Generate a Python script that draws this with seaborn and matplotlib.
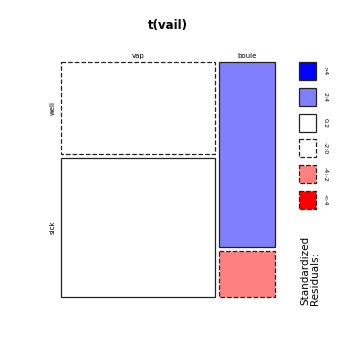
import numpy as np
import matplotlib.pyplot as plt
import seaborn as sns

# contingency table t(vail): columns = treatment, rows = state
col_names = ["vap", "boule"]
row_names = ["well", "sick"]
counts = np.array([[27, 20],   # well
                   [41, 5]])   # sick

legend_labels = [">4", "2:4", "0:2", "-2:0", "-4:-2", "<-4"]
legend_colors = ["#0000FF", "#8080FF", "#FFFFFF", "#FFFFFF", "#FF8080", "#FF0000"]
legend_dashed = [False, False, False, True, True, True]


def shade(r):
    if r > 4:
        return 0
    if r > 2:
        return 1
    if r > 0:
        return 2
    if r > -2:
        return 3
    if r > -4:
        return 4
    return 5


sns.set_theme(style="white")
plt.rcParams["font.family"] = ["DejaVu Sans"]
plt.rcParams["text.color"] = "black"

fig = plt.figure(figsize=(3.6, 3.6), dpi=100)
W, H = 360.0, 360.0

# pearson residuals
n = counts.sum()
expected = np.outer(counts.sum(axis=1), counts.sum(axis=0)) / n
resid = (counts - expected) / np.sqrt(expected)

# mosaic area in pixels
mx0, mx1, my0, my1 = 61, 275, 62, 297
gap = 4
ax = fig.add_axes([mx0 / W, 1 - my1 / H, (mx1 - mx0) / W, (my1 - my0) / H])
ax.set_xlim(0, mx1 - mx0)
ax.set_ylim(my1 - my0, 0)
ax.axis("off")

col_tot = counts.sum(axis=0)
col_w = (mx1 - mx0 - gap * (len(col_names) - 1)) * col_tot / col_tot.sum()
x = 0.0
for j, cname in enumerate(col_names):
    avail = (my1 - my0) - gap * (len(row_names) - 1)
    heights = avail * counts[:, j] / counts[:, j].sum()
    y = 0.0
    for i, rname in enumerate(row_names):
        k = shade(resid[i, j])
        ax.bar(x, heights[i], width=col_w[j], bottom=y, align="edge",
               color=legend_colors[k], edgecolor="#222222", linewidth=0.9,
               linestyle="--" if legend_dashed[k] else "-", clip_on=False)
        if j == 0:
            ax.text(-5, y + heights[i] / 2, rname, rotation=90, ha="right",
                    va="center", fontsize=5)
        y += heights[i] + gap
    ax.text(x + col_w[j] / 2, -3, cname, ha="center", va="bottom", fontsize=5)
    x += col_w[j] + gap

fig.text((mx0 + mx1) / 2 / W, 1 - 25 / H, "t(vail)", ha="center", va="center",
         fontsize=8.5, fontweight="bold")

# legend
lx0, lx1, ly0, ly1 = 299, 345, 62, 210
lax = fig.add_axes([lx0 / W, 1 - ly1 / H, (lx1 - lx0) / W, (ly1 - ly0) / H])
lax.set_xlim(0, lx1 - lx0)
lax.set_ylim(ly1 - ly0, 0)
lax.axis("off")
step = (ly1 - ly0 - 19) / (len(legend_labels) - 1)
for k, lab in enumerate(legend_labels):
    top = k * step
    lax.bar(0, 18, width=17, bottom=top, align="edge", color=legend_colors[k],
            edgecolor="#222222", linewidth=0.9,
            linestyle="--" if legend_dashed[k] else "-", clip_on=False)
    lax.text(26, top + 9, lab, rotation=-90, ha="center", va="center", fontsize=4.5)

fig.text(300 / W, 1 - 305 / H, "Standardized\nResiduals:", rotation=90,
         ha="left", va="bottom", fontsize=7.5, linespacing=0.95)

fig.savefig("out.png", dpi=100, facecolor="white")
